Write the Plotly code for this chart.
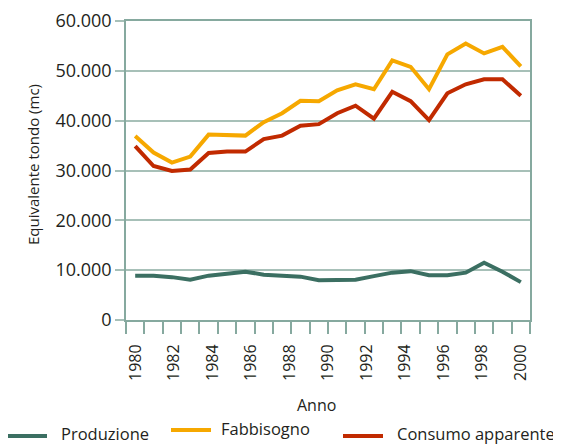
import plotly.graph_objects as go

# 22 data points along the category axis (positions 0..21)
punti = list(range(22))
anni_tick = [1980, 1982, 1984, 1986, 1988, 1990, 1992, 1994, 1996, 1998, 2000]
anni_label = [str(a) for a in anni_tick]

produzione = [8900, 8900, 8600, 8100, 8900, 9400, 9700, 9100, 9000, 8700, 8000,
              8100, 8100, 8800, 9500, 9800, 9000, 9000, 9500, 11500, 9700, 7600]
fabbisogno = [36900, 33600, 31600, 32800, 37200, 37100, 37000, 39700, 41500, 44000, 43900,
              46100, 47300, 46300, 52100, 50800, 46300, 53300, 55500, 53500, 54800, 50900]
consumo = [34900, 30900, 29900, 30200, 33500, 33800, 33800, 36300, 37000, 39000, 39300,
           41500, 43000, 40400, 45800, 43900, 40100, 45500, 47300, 48300, 48300, 45000]

nomi = ["Produzione", "Fabbisogno", "Consumo apparente"]
colori = ["#3b6f62", "#f6a800", "#c12a00"]

grid_col = "#a7c0b8"
axis_col = "#86a99f"
font_fam = "Open Sans, Noto Sans, sans-serif"
txt_col = "#231f20"

# page body has an 8px margin: lay the figure out so it lands on the window pixels
OFF = 8
W, H = 561 - OFF, 446 - OFF
ML, MR, MT, MB = 126 - OFF, 31, 21 - OFF, 126

fig = go.Figure()
for nome, serie, col in zip(nomi, [produzione, fabbisogno, consumo], colori):
    fig.add_trace(go.Scatter(x=punti, y=serie, mode="lines", name=nome,
                             line=dict(color=col, width=4), showlegend=False))

# invisible trace to activate the label axis
fig.add_trace(go.Scatter(x=[anni_tick[0]], y=[None], xaxis="x2", showlegend=False,
                         hoverinfo="skip"))

def px_x(px):
    return (px - OFF - ML) / (W - ML - MR)

def px_y(py):
    return (H - MB - (py - OFF)) / (H - MT - MB)

# manual legend (line sample + text), window pixel positions (text: bottom edge)
leg_line = [(7, 47, 436), (171, 211, 430), (343, 383, 436)]
leg_text = [(60, 445.5), (220, 441), (396, 445.5)]
shapes = []
annotations = []
for (x0, x1, yl), (xt, yt), nome, col in zip(leg_line, leg_text, nomi, colori):
    shapes.append(dict(type="line", xref="paper", yref="paper",
                       x0=px_x(x0), x1=px_x(x1), y0=px_y(yl), y1=px_y(yl),
                       line=dict(color=col, width=4)))
    annotations.append(dict(text=nome, xref="paper", yref="paper", x=px_x(xt), y=px_y(yt),
                            xanchor="left", yanchor="bottom", showarrow=False, borderpad=0,
                            font=dict(size=16.5, color=txt_col)))

annotations.append(dict(text="Anno", xref="paper", yref="paper", x=px_x(316), y=px_y(405),
                        xanchor="center", yanchor="middle", showarrow=False,
                        font=dict(size=16, color=txt_col)))
annotations.append(dict(text="Equivalente tondo (mc)", xref="paper", yref="paper",
                        x=px_x(33), y=px_y(165), xanchor="center", yanchor="middle",
                        textangle=-90, showarrow=False,
                        font=dict(size=15, color=txt_col)))

fig.update_layout(
    width=W, height=H,
    margin=dict(l=ML, r=MR, t=MT, b=MB, autoexpand=False),
    paper_bgcolor="white", plot_bgcolor="white",
    separators=",.",
    font=dict(family=font_fam, size=16, color=txt_col),
    showlegend=False,
    shapes=shapes,
    annotations=annotations,
    xaxis=dict(range=[-0.5, 21.5], tickmode="array", automargin=False,
               tickvals=[i - 0.5 for i in range(23)], showticklabels=False,
               ticks="outside", ticklen=12, tickwidth=1.5, tickcolor=axis_col,
               showgrid=False, zeroline=False, showline=True, linecolor=axis_col,
               linewidth=1.5, mirror=True),
    xaxis2=dict(overlaying="x", anchor="y", side="bottom", range=[1979.5, 2000.5],
                automargin=False,
                tickmode="array", tickvals=anni_tick, ticktext=anni_label,
                tickangle=-90, ticks="outside", ticklen=17, tickcolor="rgba(0,0,0,0)",
                showgrid=False, zeroline=False, showline=False,
                tickfont=dict(size=16, color=txt_col)),
    yaxis=dict(range=[0, 60000], tickmode="linear", tick0=0, dtick=10000,
               automargin=False,
               tickformat=",d", ticks="outside", ticklen=9, tickwidth=1.5,
               tickcolor=grid_col, showgrid=True, gridcolor=grid_col, gridwidth=1.5,
               zeroline=False, showline=True, linecolor=axis_col, linewidth=1.5,
               mirror=True, tickfont=dict(size=18, color=txt_col)),
)

fig.write_html("out.html")
